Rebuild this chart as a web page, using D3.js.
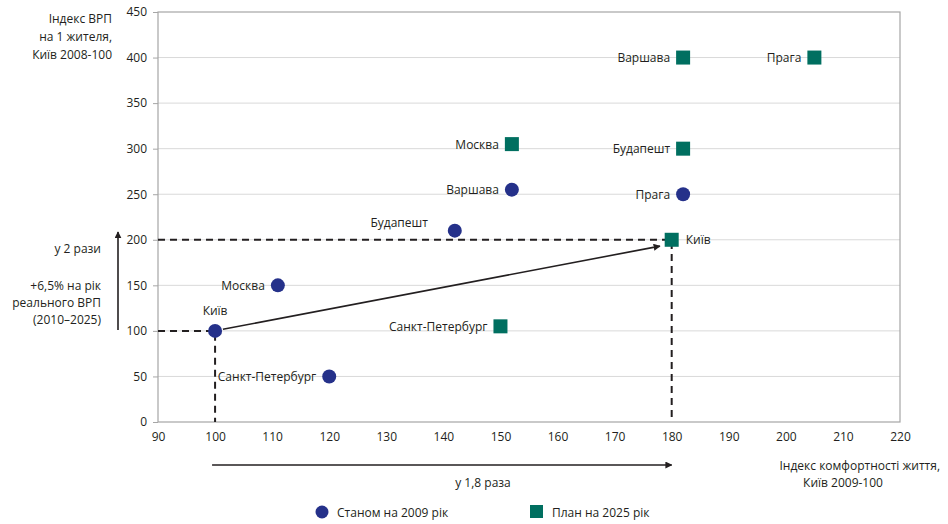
<!DOCTYPE html>
<html>
<head>
<meta charset="utf-8">
<script src="https://cdn.jsdelivr.net/npm/d3@7/dist/d3.min.js"></script>
<style>
  html, body { margin: 0; padding: 0; background: #fff; }
  svg text { font-family: "Open Sans", "Noto Sans", sans-serif; fill: #231f20; }
</style>
</head>
<body>
<svg id="chart" width="948" height="524"></svg>
<script>
// Cities and their index values
const cities2009 = ["Київ", "Москва", "Санкт-Петербург", "Будапешт", "Варшава", "Прага"];
const comfort2009 = [100, 111, 120, 142, 152, 182];
const gdp2009 = [100, 150, 50, 210, 255, 250];

const cities2025 = ["Варшава", "Прага", "Москва", "Будапешт", "Київ", "Санкт-Петербург"];
const comfort2025 = [182, 205, 152, 182, 180, 150];
const gdp2025 = [400, 400, 305, 300, 200, 105];

const xTicks = [90, 100, 110, 120, 130, 140, 150, 160, 170, 180, 190, 200, 210, 220];
const yTicks = [0, 50, 100, 150, 200, 250, 300, 350, 400, 450];

const legendLabels = ["Станом на 2009 рік", "План на 2025 рік"];

const colCircle = "#25318a";
const colSquare = "#006f60";

(function () {
const svg = d3.select("#chart");
const pLeft = 158, pRight = 900, pTop = 12, pBottom = 422;

const x = d3.scaleLinear().domain([90, 220]).range([pLeft, pRight]);
const y = d3.scaleLinear().domain([0, 450]).range([pBottom, pTop]);

svg.append("defs").append("marker")
  .attr("id", "arrow").attr("viewBox", "0 0 10 10")
  .attr("refX", 9).attr("refY", 5)
  .attr("markerWidth", 7).attr("markerHeight", 7)
  .attr("markerUnits", "userSpaceOnUse")
  .attr("orient", "auto")
  .append("path").attr("d", "M0,0 L10,5 L0,10 z").attr("fill", "#231f20");

// gridlines
svg.append("g").selectAll("line").data(yTicks.slice(1, -1)).join("line")
  .attr("x1", pLeft).attr("x2", pRight)
  .attr("y1", d => y(d)).attr("y2", d => y(d))
  .attr("stroke", "#d9d9d9").attr("stroke-width", 1);

// frame
svg.append("rect").attr("x", pLeft).attr("y", pTop)
  .attr("width", pRight - pLeft).attr("height", pBottom - pTop)
  .attr("fill", "none").attr("stroke", "#a6a6a6").attr("stroke-width", 1.2);

// y axis
const yAxis = svg.append("g").attr("transform", `translate(${pLeft},0)`)
  .call(d3.axisLeft(y).tickValues(yTicks).tickSize(5).tickPadding(6));
yAxis.select(".domain").remove();
yAxis.selectAll(".tick line").attr("stroke", "#a6a6a6");
yAxis.selectAll("text").attr("font-size", 12).attr("fill", "#231f20")
  .style("font-family", "'Open Sans', sans-serif");

// x axis
const xAxis = svg.append("g").attr("transform", `translate(0,${pBottom})`)
  .call(d3.axisBottom(x).tickValues(xTicks).tickSize(0).tickPadding(10));
xAxis.select(".domain").remove();
xAxis.selectAll("text").attr("font-size", 12).attr("fill", "#231f20")
  .style("font-family", "'Open Sans', sans-serif");

// dashed guides
const dash = svg.append("g").attr("stroke", "#231f20").attr("stroke-width", 2)
  .attr("stroke-dasharray", "7,5").attr("fill", "none");
[[100, 100], [180, 200]].forEach(([cx, cy]) => {
  dash.append("path").attr("d", `M${x(90)},${y(cy)} H${x(cx)} V${y(0)}`);
});

// Kyiv growth arrow
{
  const x0 = x(100), y0 = y(100), x1 = x(180), y1 = y(200);
  const dx = x1 - x0, dy = y1 - y0, L = Math.hypot(dx, dy);
  svg.append("line")
    .attr("x1", x0 + dx / L * 8).attr("y1", y0 + dy / L * 8)
    .attr("x2", x1 - dx / L * 12).attr("y2", y1 - dy / L * 12 + 4)
    .attr("stroke", "#231f20").attr("stroke-width", 1.6)
    .attr("marker-end", "url(#arrow)");
}

// points 2009
svg.append("g").selectAll("circle").data(cities2009).join("circle")
  .attr("cx", (d, i) => x(comfort2009[i]))
  .attr("cy", (d, i) => y(gdp2009[i]))
  .attr("r", 7).attr("fill", colCircle);

// points 2025
const sq = 14;
svg.append("g").selectAll("rect").data(cities2025).join("rect")
  .attr("x", (d, i) => x(comfort2025[i]) - sq / 2)
  .attr("y", (d, i) => y(gdp2025[i]) - sq / 2)
  .attr("width", sq).attr("height", sq).attr("fill", colSquare);

// point labels
const labelFont = 12;
function place(name, series) {
  if (series === 0 && name === "Київ") return { dx: 0, dy: -20, anchor: "middle" };
  if (series === 0 && name === "Будапешт") return { dx: -27, dy: -8, anchor: "end" };
  if (series === 1 && name === "Київ") return { dx: 14, dy: 0, anchor: "start" };
  return { dx: -13, dy: 0, anchor: "end" };
}
function drawLabels(names, xs, ys, series) {
  svg.append("g").selectAll("text").data(names).join("text")
    .each(function (d, i) {
      const p = place(d, series);
      d3.select(this)
        .attr("x", x(xs[i]) + p.dx)
        .attr("y", y(ys[i]) + p.dy)
        .attr("text-anchor", p.anchor)
        .attr("dominant-baseline", "central")
        .attr("font-size", labelFont)
        .text(d);
    });
}
drawLabels(cities2009, comfort2009, gdp2009, 0);
drawLabels(cities2025, comfort2025, gdp2025, 1);

// y axis title
const yTitle = ["Індекс ВРП", "на 1 жителя,", "Київ 2008-100"];
svg.append("g").selectAll("text").data(yTitle).join("text")
  .attr("x", 112).attr("y", (d, i) => 18 + i * 18)
  .attr("text-anchor", "end").attr("dominant-baseline", "central")
  .attr("font-size", 12).text(d => d);

// x axis title
svg.append("text").attr("x", 940).attr("y", 465)
  .attr("text-anchor", "end").attr("dominant-baseline", "central")
  .attr("font-size", 12).text("Індекс комфортності життя,");
svg.append("text").attr("x", 843).attr("y", 482)
  .attr("text-anchor", "middle").attr("dominant-baseline", "central")
  .attr("font-size", 12).text("Київ 2009-100");

// growth annotations
svg.append("line").attr("x1", 118).attr("x2", 118).attr("y1", 330).attr("y2", 232)
  .attr("stroke", "#231f20").attr("stroke-width", 1.6).attr("marker-end", "url(#arrow)");
svg.append("line").attr("x1", x(100) - 3).attr("x2", x(180)).attr("y1", 465).attr("y2", 465)
  .attr("stroke", "#231f20").attr("stroke-width", 1.6).attr("marker-end", "url(#arrow)");

svg.append("text").attr("x", 101).attr("y", 248)
  .attr("text-anchor", "end").attr("dominant-baseline", "central")
  .attr("font-size", 12).text("у 2 рази");
const growthNote = ["+6,5% на рік", "реального ВРП", "(2010–2025)"];
svg.append("g").selectAll("text").data(growthNote).join("text")
  .attr("x", 101).attr("y", (d, i) => 285 + i * 17)
  .attr("text-anchor", "end").attr("dominant-baseline", "central")
  .attr("font-size", 12).text(d => d);
svg.append("text").attr("x", 483).attr("y", 482)
  .attr("text-anchor", "middle").attr("dominant-baseline", "central")
  .attr("font-size", 12).text("у 1,8 раза");

// legend
const lg = svg.append("g");
lg.append("circle").attr("cx", 322).attr("cy", 512).attr("r", 6.5).attr("fill", colCircle);
lg.append("text").attr("x", 337).attr("y", 512).attr("dominant-baseline", "central")
  .attr("font-size", 12).text(legendLabels[0]);
lg.append("rect").attr("x", 530).attr("y", 505).attr("width", 13).attr("height", 13).attr("fill", colSquare);
lg.append("text").attr("x", 552).attr("y", 512).attr("dominant-baseline", "central")
  .attr("font-size", 12).text(legendLabels[1]);
})();
</script>
</body>
</html>
